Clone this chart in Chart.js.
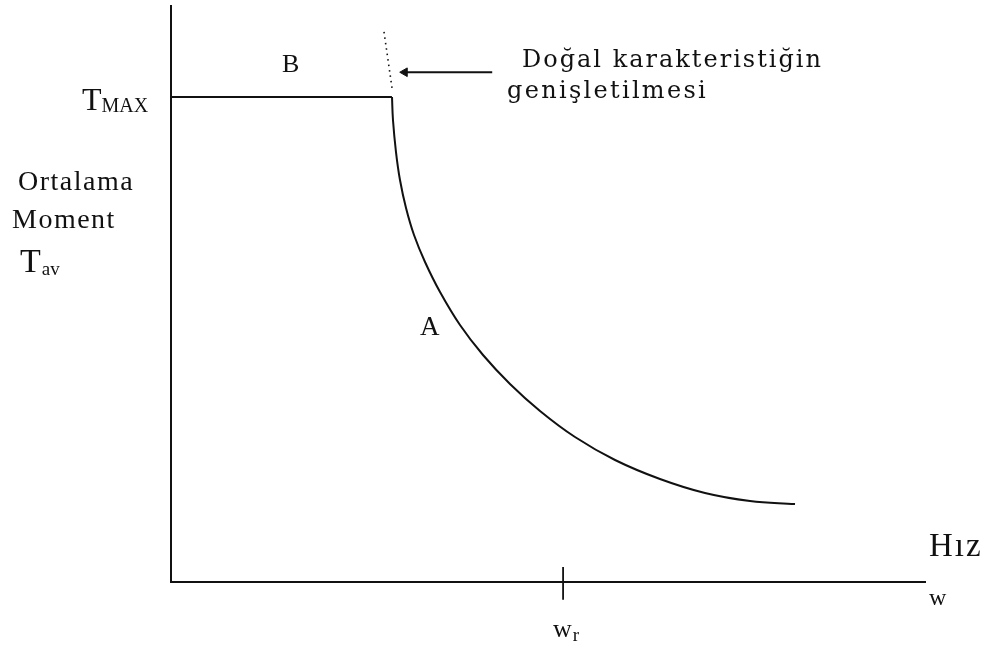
<!DOCTYPE html>
<html lang="tr">
<head>
<meta charset="utf-8">
<title>Ortalama Moment - Hız</title>
<script src="https://cdn.jsdelivr.net/npm/chart.js@4.4.1/dist/chart.umd.min.js"></script>
<style>
  html, body { margin: 0; padding: 0; background: #fff; }
  canvas { display: block; }
</style>
</head>
<body>
<canvas id="torqueChart" width="987" height="649"></canvas>
<script>
// sabit moment bölgesi (B)
const tmaxSpeed = [0, 29.3];
const tmaxTorque = [84.2, 84.2];

// doğal karakteristik (A)
const curveSpeed  = [29.31, 29.44, 29.84, 30.37, 31.17, 32.23, 33.69, 35.68, 38.33, 41.38, 44.96, 48.94, 53.58, 58.89, 64.85, 70.82, 76.79, 82.76];
const curveTorque = [84.2, 80.21, 74.65, 69.79, 64.93, 60.24, 55.56, 50.35, 44.62, 39.41, 34.38, 29.69, 25.17, 21.18, 17.88, 15.45, 14.06, 13.54];

// karakteristiğin genişletilmesi (noktalı)
const extSpeed  = [28.25, 29.31];
const extTorque = [95.5, 85.8];

// ok
const arrowSpeed  = [31.0, 42.6];
const arrowTorque = [88.5, 88.5];

// w_r işareti
const ratedSpeed = [52.0, 52.0];
const ratedMark  = [2.6, -3.1];

const ink = '#111111';
const pts = (xs, ys) => xs.map((v, i) => ({ x: v, y: ys[i] }));

const lineSet = (data, extra) => Object.assign({
    data,
    showLine: true,
    borderColor: ink,
    borderWidth: 2,
    pointRadius: 0,
    fill: false,
    clip: false
}, extra);

// etiketler (eksen birimlerinde)
const notes = [
    { text: 'B', x: 14.72, y: 88.54, font: '26px "Liberation Serif"' },
    { text: 'A', x: 33.02, y: 42.88, font: '27px "Liberation Serif"' },
    { text: 'Doğal karakteristiğin', x: 46.55, y: 89.41, font: '24px "DejaVu Serif"', spacing: 2 },
    { text: 'genişletilmesi', x: 44.56, y: 84.03, font: '24px "DejaVu Serif"', spacing: 2.3 },
    { text: 'Ortalama', x: -20.29, y: 68.06, font: '28px "Liberation Serif"', spacing: 1.5 },
    { text: 'Moment', x: -21.09, y: 61.46, font: '28px "Liberation Serif"', spacing: 1.5 },
    { text: 'Hız', x: 100.53, y: 4.51, font: '33px "Liberation Serif"', spacing: 2 },
    { text: 'w', x: 100.53, y: -3.99, font: '24px "Liberation Serif"' }
];
const subNotes = [
    { text: 'T', sub: 'MAX', x: -11.8, y: 81.94, font: '32px "Liberation Serif"', subFont: '20px "Liberation Serif"', drop: 2, gap: 0 },
    { text: 'T', sub: 'av', x: -20.03, y: 53.82, font: '34px "Liberation Serif"', subFont: '19px "Liberation Serif"', drop: 3, gap: 1 },
    { text: 'w', sub: 'r', x: 50.66, y: -9.55, font: '26px "Liberation Serif"', subFont: '19px "Liberation Serif"', drop: 4, gap: 1 }
];

const labelsPlugin = {
    id: 'diagramLabels',
    afterDraw(chart) {
        const { ctx, scales: { x, y } } = chart;
        const put = (text, px, py, font, spacing) => {
            ctx.font = font;
            ctx.letterSpacing = (spacing || 0) + 'px';
            ctx.fillText(text, px, py);
            return px + ctx.measureText(text).width;
        };
        ctx.save();
        ctx.fillStyle = ink;
        ctx.textAlign = 'left';
        ctx.textBaseline = 'alphabetic';
        notes.forEach(n => put(n.text, x.getPixelForValue(n.x), y.getPixelForValue(n.y), n.font, n.spacing));
        subNotes.forEach(n => {
            const py = y.getPixelForValue(n.y);
            const end = put(n.text, x.getPixelForValue(n.x), py, n.font);
            put(n.sub, end + n.gap, py + n.drop, n.subFont);
        });
        ctx.restore();
    }
};

const hidden = {
    type: 'linear',
    min: 0,
    max: 100,
    ticks: { display: false },
    grid: { display: false, drawTicks: false, tickLength: 0 },
    border: { display: true, color: ink, width: 2 }
};

new Chart(document.getElementById('torqueChart'), {
    type: 'scatter',
    data: {
        datasets: [
            lineSet(pts(tmaxSpeed, tmaxTorque), { borderWidth: 1.8 }),
            lineSet(pts(curveSpeed, curveTorque), { tension: 0.4 }),
            lineSet(pts(extSpeed, extTorque), { borderWidth: 1.6, borderDash: [1.5, 4] }),
            lineSet(pts(arrowSpeed, arrowTorque), {
                borderWidth: 1.8,
                pointRadius: [5, 0],
                pointStyle: 'triangle',
                rotation: 270,
                pointBackgroundColor: ink,
                pointBorderColor: ink,
                pointBorderWidth: 1
            }),
            lineSet(pts(ratedSpeed, ratedMark), { borderWidth: 1.8 })
        ]
    },
    options: {
        responsive: false,
        animation: false,
        events: [],
        layout: {
            autoPadding: false,
            padding: { left: 171, top: 6, right: 62, bottom: 67 }
        },
        scales: {
            x: Object.assign({}, hidden),
            y: Object.assign({}, hidden)
        },
        plugins: {
            legend: { display: false },
            tooltip: { enabled: false }
        }
    },
    plugins: [labelsPlugin]
});
</script>
</body>
</html>
